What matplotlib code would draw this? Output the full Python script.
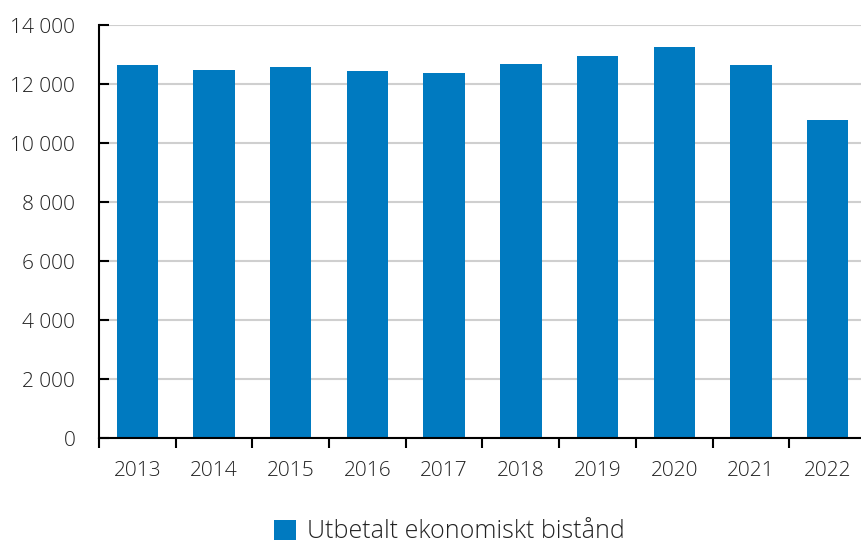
import matplotlib
matplotlib.use("Agg")
import matplotlib.pyplot as plt
from matplotlib.patches import Patch
from matplotlib.ticker import FixedLocator, FuncFormatter

plt.rcParams['font.family'] = ['Open Sans', 'DejaVu Sans']

years = ["2013", "2014", "2015", "2016", "2017", "2018", "2019", "2020", "2021", "2022"]
utbetalt = [12630, 12480, 12590, 12430, 12360, 12680, 12950, 13240, 12630, 10780]
series_label = "Utbetalt ekonomiskt bistånd"
yticks = [0, 2000, 4000, 6000, 8000, 10000, 12000, 14000]

bar_color = "#007AC0"
text_color = "#222222"
fs = 15

fig = plt.figure(figsize=(8.62, 5.45), dpi=100)
ax = fig.add_axes([0.1148, 0.1963, 0.8898, 0.7578])

x = list(range(len(years)))
ax.bar(x, utbetalt, width=0.54, color=bar_color, zorder=3)

ax.set_xlim(-0.5, len(years) - 0.5)
ax.set_ylim(0, 14000)

ax.set_yticks(yticks)
ax.yaxis.set_major_formatter(FuncFormatter(lambda v, p: f"{int(v):,}".replace(",", " ")))
ax.grid(axis="y", color="#CFCFCF", linewidth=1.5, zorder=0)

# category labels centred, tick marks at boundaries
ax.set_xticks(x)
ax.set_xticklabels(years)
ax.xaxis.set_minor_locator(FixedLocator([i - 0.5 for i in range(len(years) + 1)]))
ax.tick_params(axis="x", which="major", length=0, pad=16.5, labelsize=fs, labelcolor=text_color)
ax.tick_params(axis="x", which="minor", length=7, width=1.5, direction="out", color="black")
ax.tick_params(axis="y", length=7, width=1.5, direction="in", pad=17, labelsize=fs,
               labelcolor=text_color, color="black")
for lab in ax.get_xticklabels() + ax.get_yticklabels():
    lab.set_fontweight("light")

for s in ("top", "right"):
    ax.spines[s].set_visible(False)
for s in ("left", "bottom"):
    ax.spines[s].set_linewidth(1.5)
    ax.spines[s].set_color("black")
    ax.spines[s].set_zorder(4)

handle = Patch(facecolor=bar_color, edgecolor="none")
leg = fig.legend([handle], [series_label], loc="center", bbox_to_anchor=(0.5215, 0.024),
                 frameon=False, fontsize=18, handlelength=0.85, handleheight=0.85,
                 handletextpad=0.45, borderpad=0)
for t in leg.get_texts():
    t.set_color(text_color)
    t.set_fontweight("light")

fig.savefig("out.png", dpi=100)
